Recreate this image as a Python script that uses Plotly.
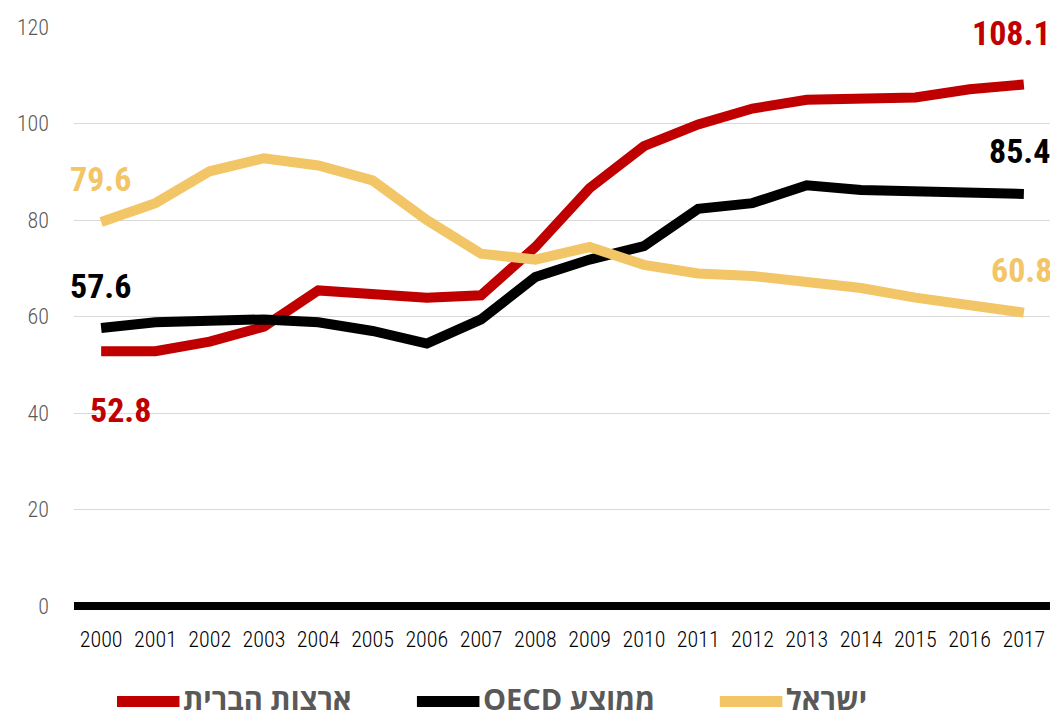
import plotly.graph_objects as go

years = list(range(2000, 2018))

usa = [52.8, 52.8, 54.8, 57.9, 65.4, 64.9, 63.9, 64.4, 74.4, 86.6, 95.3,
       99.8, 103.1, 104.9, 104.9, 105.4, 107.1, 108.1]
oecd = [57.6, 58.8, 59.1, 59.4, 58.8, 57.0, 54.4, 59.4, 68.2, 71.8, 74.6,
        82.3, 83.5, 87.2, 86.2, 86.0, 85.8, 85.4]
israel = [79.6, 83.5, 90.1, 92.8, 91.3, 88.2, 80.0, 73.0, 71.8, 74.4, 70.7,
          68.9, 68.4, 67.2, 65.9, 63.9, 62.2, 60.8]

names = ["ארצות הברית", "OECD ממוצע", "ישראל"]
colours = ["#c00000", "#000000", "#f2c566"]
y_ticks = [0, 20, 40, 60, 80, 100, 120]

cond = "Roboto Condensed, Roboto"

fig = go.Figure()
for series, colour, name in zip([usa, oecd, israel], colours, names):
    fig.add_trace(
        go.Scatter(
            x=years,
            y=series,
            mode="lines",
            name=name,
            line=dict(color=colour, width=10),
            showlegend=False,
        )
    )

# value labels at both ends
labels = [
    (years[-1], usa[-1], colours[0], -12, 51),
    (years[-1], oecd[-1], colours[1], -4, 43),
    (years[-1], israel[-1], colours[2], -2, 43),
    (years[0], israel[0], colours[2], -1, 43),
    (years[0], oecd[0], colours[1], -1, 42),
    (years[0], usa[0], colours[0], 19, -59),
]
for x, y, colour, dx, dy in labels:
    fig.add_annotation(
        x=x, y=y, text=f"<b>{y:.1f}</b>", showarrow=False,
        xshift=dx, yshift=dy,
        font=dict(family=cond, size=34, color=colour),
    )

# legend drawn by hand so the keys are long bars
legend_x = [0.044, 0.351, 0.661]
for lx, colour, name in zip(legend_x, colours, names):
    fig.add_shape(
        type="line", xref="paper", yref="paper",
        x0=lx, x1=lx + 0.064, y0=-0.165, y1=-0.165,
        line=dict(color=colour, width=11),
    )
    fig.add_annotation(
        xref="paper", yref="paper", x=lx + 0.066, y=-0.159,
        xanchor="left", yanchor="middle", showarrow=False,
        text=f"<b>{name}</b>",
        font=dict(family="Open Sans, Liberation Sans, DejaVu Sans", size=29, color="#595959"),
    )

# the page body adds an 8px margin, so the figure is 8px smaller
fig.update_layout(
    width=1050,
    height=706,
    margin=dict(l=66, r=7, t=16, b=108),
    paper_bgcolor="white",
    plot_bgcolor="white",
    showlegend=False,
    xaxis=dict(
        range=[1999.5, 2017.5],
        tickvals=years,
        showgrid=False,
        showline=False,
        zeroline=False,
        ticks="",
        tickfont=dict(family=cond, size=22, color="#000000", weight=300),
        ticklabelstandoff=18,
    ),
    yaxis=dict(
        range=[0, 120],
        tickvals=y_ticks,
        showgrid=True,
        gridcolor="#d9d9d9",
        gridwidth=1,
        zeroline=True,
        zerolinecolor="#000000",
        zerolinewidth=8,
        showline=False,
        ticks="",
        tickfont=dict(family=cond, size=22, color="#595959", weight=300),
        ticklabelstandoff=24,
    ),
)

fig.write_html("out.html")
